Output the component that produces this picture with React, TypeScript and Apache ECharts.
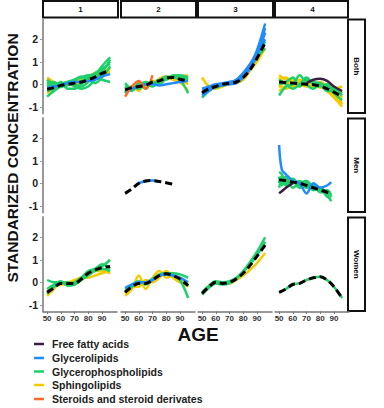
import React, { useEffect, useRef } from "react";
import * as echarts from "echarts";

// ---------- data ----------
const COLS = ["1", "2", "3", "4"];
const ROWS = ["Both", "Men", "Women"];
const X_TICKS = [50, 60, 70, 80, 90];
const Y_TICKS = [-1, 0, 1, 2];
const LEGEND = [
  "Free fatty acids",
  "Glycerolipids",
  "Glycerophospholipids",
  "Sphingolipids",
  "Steroids and steroid derivates",
];
const COLORS = {
  purple: "#3b1f45",
  blue: "#1f8bff",
  green: "#1fcf6c",
  yellow: "#f3cb00",
  orange: "#ff6a2c",
};

const AGE_FULL = [50, 55, 60, 65, 70, 75, 80, 85, 90, 96];
const AGE_MEN2 = [50, 55, 60, 65, 70, 75, 80, 86];
const AGE_MEN4 = [50, 52, 55, 60, 65, 70, 75, 80, 85, 88];

// Both / 1
const both1Mean = [-0.22, -0.15, -0.05, 0.0, 0.05, 0.1, 0.2, 0.32, 0.48, 0.62];
const both1Green = [
  [0.1, -0.05, 0.0, 0.1, 0.0, -0.1, 0.1, 0.4, 0.8, 1.2],
  [-0.55, -0.3, -0.1, 0.05, -0.1, -0.2, -0.1, 0.2, 0.6, 1.0],
  [0.2, 0.0, -0.1, 0.1, 0.2, 0.3, 0.4, 0.3, 0.2, 0.1],
  [-0.3, -0.2, 0.1, -0.2, -0.2, 0.0, 0.3, 0.5, 0.7, 0.9],
  [0.0, 0.1, -0.1, -0.05, 0.2, 0.35, 0.2, 0.05, 0.3, 0.8],
  [-0.1, 0.05, 0.0, 0.1, 0.1, 0.15, 0.35, 0.45, 0.55, 1.1],
];
const both1Yellow = [
  [0.3, 0.1, 0.0, 0.05, 0.1, 0.2, 0.3, 0.4, 0.5, 0.6],
  [-0.4, -0.25, -0.1, 0.0, 0.1, 0.2, 0.35, 0.5, 0.6, 0.7],
  [0.0, -0.1, -0.1, 0.0, 0.05, 0.1, 0.15, 0.3, 0.45, 0.5],
  [0.2, -0.05, 0.05, 0.0, 0.0, 0.05, 0.25, 0.35, 0.4, 0.75],
];
const both1Blue = [[-0.15, -0.1, -0.05, 0.05, 0.1, 0.1, 0.15, 0.2, 0.35, 0.45]];

// Both / 2
const both2Mean = [-0.25, -0.15, -0.1, -0.05, 0.1, 0.15, 0.28, 0.3, 0.22, 0.15];
const both2Green = [
  [-0.1, -0.3, 0.05, -0.2, 0.1, 0.0, 0.25, 0.35, 0.4, 0.3],
  [-0.4, -0.1, -0.2, 0.0, -0.1, 0.15, 0.35, 0.3, 0.2, -0.4],
  [0.05, -0.2, -0.05, 0.1, 0.0, 0.2, 0.2, 0.4, 0.35, 0.2],
];
const both2Yellow = [
  [-0.1, -0.2, -0.1, 0.0, 0.1, 0.2, 0.3, 0.35, 0.35, 0.4],
  [-0.3, -0.1, -0.3, 0.1, 0.0, 0.25, 0.35, 0.2, 0.1, -0.3],
  [-0.2, -0.25, 0.0, -0.1, 0.15, 0.1, 0.3, 0.25, 0.3, 0.3],
  [-0.35, -0.15, -0.15, -0.05, 0.05, 0.2, 0.25, 0.3, 0.2, 0.0],
];
const both2Blue = [[-0.3, -0.2, -0.1, 0.0, 0.0, -0.05, 0.0, 0.05, 0.1, 0.15]];
const both2Orange = [[-0.55, -0.1, 0.15, -0.2, 0.4, null, null, null, null, null]];

// Both / 3
const both3Mean = [-0.38, -0.2, -0.1, 0.0, 0.05, 0.1, 0.3, 0.65, 1.15, 1.85];
const both3Yellow = [[0.3, -0.1, -0.2, -0.1, 0.0, 0.05, 0.2, 0.6, 1.0, 1.6]];
const both3Green = [
  [-0.4, -0.2, -0.15, -0.05, 0.05, 0.2, 0.5, 0.85, 1.2, 1.6],
  [-0.6, -0.3, -0.1, 0.0, 0.1, 0.15, 0.35, 0.75, 1.2, 1.9],
];
const both3Blue = [
  [-0.3, -0.15, -0.05, 0.0, 0.05, 0.15, 0.4, 0.8, 1.5, 2.7],
  [-0.5, -0.3, -0.1, -0.05, 0.0, 0.05, 0.3, 0.7, 1.3, 2.3],
  [-0.2, -0.1, 0.0, 0.05, 0.1, 0.2, 0.5, 0.9, 1.4, 2.0],
  [-0.4, -0.2, -0.1, 0.0, 0.05, 0.1, 0.35, 0.85, 1.45, 2.5],
];

// Both / 4
const both4Mean = [0.1, 0.08, 0.05, 0.02, 0.0, -0.02, -0.08, -0.2, -0.35, -0.55];
const both4Yellow = [
  [0.4, 0.2, 0.1, 0.05, 0.05, 0.0, -0.1, -0.3, -0.6, -1.0],
  [-0.3, -0.1, 0.0, -0.1, 0.1, 0.0, 0.0, -0.1, -0.3, -0.6],
  [0.2, 0.3, 0.1, 0.2, 0.0, 0.1, -0.1, -0.2, -0.2, -0.1],
  [0.0, -0.2, -0.1, 0.0, -0.1, -0.1, 0.1, -0.1, -0.5, -0.8],
  [0.3, 0.0, 0.2, 0.0, 0.15, -0.05, 0.0, -0.25, -0.4, -0.9],
  [-0.15, 0.1, -0.05, 0.1, -0.05, 0.05, -0.15, 0.0, -0.1, -0.4],
];
const both4Green = [
  [0.0, 0.1, 0.3, -0.1, 0.2, 0.1, 0.05, -0.1, -0.2, -0.5],
  [-0.5, -0.1, 0.0, 0.4, 0.0, -0.2, 0.0, -0.3, -0.3, -0.4],
  [0.2, 0.0, -0.2, 0.0, 0.3, 0.0, -0.1, 0.0, -0.4, -0.7],
];
const both4Purple = [[null, null, null, null, 0.05, 0.2, 0.25, 0.15, -0.1, -0.3]];

// Men / 2
const men2Mean = [-0.45, -0.25, 0.0, 0.1, 0.12, 0.08, 0.02, -0.05];
const men2Blue = [[null, null, 0.0, 0.1, 0.12, 0.08, null, null]];

// Men / 4
const men4Mean = [0.15, 0.14, 0.12, 0.05, 0.0, -0.1, -0.2, -0.3, -0.4, -0.45];
const men4Green = [
  [0.5, 0.4, 0.1, 0.2, -0.1, 0.0, -0.3, -0.2, -0.5, -0.8],
  [0.0, 0.3, 0.2, 0.0, 0.1, -0.2, -0.1, -0.4, -0.3, -0.6],
  [-0.2, 0.1, -0.1, 0.1, -0.2, -0.1, -0.3, -0.2, -0.6, -0.7],
  [0.3, -0.1, 0.3, -0.2, 0.0, 0.1, -0.2, -0.3, -0.4, -0.5],
  [0.1, 0.0, 0.0, 0.15, -0.05, -0.15, -0.05, -0.35, -0.45, -0.4],
];
const men4Blue = [[1.7, 0.6, 0.4, 0.1, 0.0, -0.45, 0.0, -0.2, -0.1, 0.05]];
const men4Purple = [[-0.45, -0.35, -0.2, 0.0, null, null, null, null, null, null]];

// Women / 1
const women1Mean = [-0.45, -0.25, -0.05, -0.05, -0.05, 0.15, 0.4, 0.55, 0.65, 0.7];
const women1Yellow = [
  [-0.6, -0.3, 0.0, 0.0, 0.1, 0.2, 0.2, 0.3, 0.4, 0.5],
  [-0.4, -0.2, -0.1, -0.1, 0.0, 0.1, 0.45, 0.5, 0.5, 0.4],
];
const women1Green = [
  [-0.5, -0.2, -0.05, 0.0, -0.1, 0.2, 0.4, 0.6, 0.7, 1.0],
  [0.1, 0.0, 0.0, -0.1, 0.0, 0.2, 0.5, 0.6, 0.8, 0.6],
  [-0.3, -0.1, 0.05, -0.15, -0.1, 0.1, 0.3, 0.5, 0.6, 0.5],
];

// Women / 2
const women2Mean = [-0.45, -0.2, -0.05, -0.05, 0.1, 0.3, 0.38, 0.3, 0.15, -0.15];
const women2Yellow = [
  [-0.6, -0.3, 0.3, -0.3, 0.2, 0.5, 0.2, 0.3, 0.1, -0.2],
  [-0.5, -0.2, -0.2, 0.1, 0.0, 0.2, 0.5, 0.2, 0.0, -0.1],
];
const women2Green = [
  [-0.4, -0.1, 0.05, -0.1, 0.1, 0.3, 0.35, 0.3, 0.1, -0.7],
  [-0.3, -0.2, 0.0, 0.0, 0.15, 0.35, 0.4, 0.4, 0.35, 0.2],
];
const women2Blue = [[-0.25, -0.1, 0.0, 0.0, 0.1, 0.3, 0.35, 0.3, 0.2, 0.0]];

// Women / 3
const women3Mean = [-0.5, -0.2, 0.0, -0.05, 0.0, 0.15, 0.4, 0.75, 1.15, 1.65];
const women3Yellow = [[-0.5, -0.2, 0.0, -0.05, -0.05, 0.1, 0.3, 0.55, 0.85, 1.3]];
const women3Green = [
  [-0.45, -0.15, 0.05, 0.0, 0.05, 0.2, 0.5, 0.9, 1.35, 2.0],
  [-0.55, -0.25, -0.05, -0.1, -0.05, 0.15, 0.45, 0.8, 1.2, 1.8],
];

// Women / 4
const women4Mean = [-0.45, -0.3, -0.1, -0.05, 0.1, 0.2, 0.25, 0.1, -0.2, -0.7];
const women4Green = [[-0.45, -0.3, -0.08, -0.05, 0.1, 0.2, 0.25, 0.1, -0.2, -0.7]];

type Panel = {
  row: number;
  col: number;
  ages: number[];
  mean?: (number | null)[];
  yellow?: (number | null)[][];
  green?: (number | null)[][];
  blue?: (number | null)[][];
  orange?: (number | null)[][];
  purple?: (number | null)[][];
};

const PANELS: Panel[] = [
  { row: 0, col: 0, ages: AGE_FULL, mean: both1Mean, yellow: both1Yellow, green: both1Green, blue: both1Blue },
  { row: 0, col: 1, ages: AGE_FULL, mean: both2Mean, yellow: both2Yellow, green: both2Green, blue: both2Blue, orange: both2Orange },
  { row: 0, col: 2, ages: AGE_FULL, mean: both3Mean, yellow: both3Yellow, green: both3Green, blue: both3Blue },
  { row: 0, col: 3, ages: AGE_FULL, mean: both4Mean, yellow: both4Yellow, green: both4Green, purple: both4Purple },
  { row: 1, col: 0, ages: AGE_FULL },
  { row: 1, col: 1, ages: AGE_MEN2, mean: men2Mean, blue: men2Blue },
  { row: 1, col: 2, ages: AGE_FULL },
  { row: 1, col: 3, ages: AGE_MEN4, mean: men4Mean, green: men4Green, blue: men4Blue, purple: men4Purple },
  { row: 2, col: 0, ages: AGE_FULL, mean: women1Mean, yellow: women1Yellow, green: women1Green },
  { row: 2, col: 1, ages: AGE_FULL, mean: women2Mean, yellow: women2Yellow, green: women2Green, blue: women2Blue },
  { row: 2, col: 2, ages: AGE_FULL, mean: women3Mean, yellow: women3Yellow, green: women3Green },
  { row: 2, col: 3, ages: AGE_FULL, mean: women4Mean, green: women4Green },
];

// ---------- layout ----------
const GRID_LEFT = [43, 121, 198, 275];
const GRID_W = 74;
const GRID_TOP = [19, 118, 217];
const GRID_H = 94.5;
const FONT = "Liberation Sans, Arial, sans-serif";

export default function App() {
  const ref = useRef<HTMLDivElement>(null);

  useEffect(() => {
    document.body.style.margin = "0";
    const chart = echarts.init(ref.current!, undefined, { renderer: "svg" });

    const grids: any[] = [];
    const xAxes: any[] = [];
    const yAxes: any[] = [];
    const series: any[] = [];

    PANELS.forEach((p, i) => {
      grids.push({ left: GRID_LEFT[p.col], top: GRID_TOP[p.row], width: GRID_W, height: GRID_H });
      const bottom = p.row === 2;
      const left = p.col === 0;
      xAxes.push({
        type: "value",
        gridIndex: i,
        min: 47,
        max: 101,
        splitLine: { show: false },
        axisLine: { show: bottom, onZero: false, lineStyle: { color: "#777", width: 1.5 } },
        axisTick: { show: bottom, length: 2.5, customValues: X_TICKS, lineStyle: { color: "#777" } },
        axisLabel: {
          show: bottom,
          customValues: X_TICKS,
          margin: 3,
          fontSize: 8,
          fontWeight: "bold",
          color: "#333",
          fontFamily: FONT,
        },
      });
      yAxes.push({
        type: "value",
        gridIndex: i,
        min: -1.3,
        max: 2.9,
        splitLine: { show: false },
        axisLine: { show: left, onZero: false, lineStyle: { color: "#999", width: 2 } },
        axisTick: { show: left, length: 3, customValues: Y_TICKS, lineStyle: { color: "#999" } },
        axisLabel: {
          show: left,
          customValues: Y_TICKS,
          margin: 5,
          fontSize: 10.5,
          fontWeight: "bold",
          color: "#222",
          fontFamily: FONT,
        },
      });

      const addLines = (arr: (number | null)[][] | undefined, color: string) => {
        (arr || []).forEach((vals) => {
          series.push({
            type: "line",
            xAxisIndex: i,
            yAxisIndex: i,
            data: p.ages.map((a, k) => [a, vals[k]]),
            showSymbol: false,
            smooth: 0.35,
            silent: true,
            connectNulls: false,
            lineStyle: { color, width: 2.5 },
          });
        });
      };
      addLines(p.yellow, COLORS.yellow);
      addLines(p.green, COLORS.green);
      addLines(p.blue, COLORS.blue);
      addLines(p.orange, COLORS.orange);
      addLines(p.purple, COLORS.purple);
      if (p.mean) {
        series.push({
          type: "line",
          xAxisIndex: i,
          yAxisIndex: i,
          data: p.ages.map((a, k) => [a, p.mean![k]]),
          showSymbol: false,
          smooth: 0.35,
          silent: true,
          z: 5,
          lineStyle: { color: "#000", width: 3, type: [7, 4] },
        });
      }
    });

    const graphics: any[] = [];
    COLS.forEach((c, j) => {
      graphics.push({
        type: "rect",
        shape: { x: GRID_LEFT[j], y: 1, width: j === 3 ? 73 : GRID_W + 1, height: 16.5 },
        style: { fill: "#fff", stroke: "#111", lineWidth: 2 },
      });
      graphics.push({
        type: "text",
        x: GRID_LEFT[j] + 37.5,
        y: 9.5,
        style: { text: c, font: `bold 8px ${FONT}`, fill: "#111", textAlign: "center", textVerticalAlign: "middle" },
      });
    });
    ROWS.forEach((r, j) => {
      graphics.push({
        type: "rect",
        shape: { x: 348, y: GRID_TOP[j] + 0.5, width: 17, height: GRID_H - 1 },
        style: { fill: "#fff", stroke: "#111", lineWidth: 2 },
      });
      graphics.push({
        type: "text",
        x: 356.5,
        y: GRID_TOP[j] + GRID_H / 2,
        rotation: -Math.PI / 2,
        style: { text: r, font: `bold 8px ${FONT}`, fill: "#111", textAlign: "center", textVerticalAlign: "middle" },
      });
    });
    graphics.push({
      type: "text",
      x: 12,
      y: 158,
      rotation: Math.PI / 2,
      style: {
        text: "STANDARIZED CONCENTRATION",
        font: `bold 15.5px ${FONT}`,
        fill: "#111",
        textAlign: "center",
        textVerticalAlign: "middle",
      },
    });
    graphics.push({
      type: "text",
      x: 198,
      y: 334,
      style: { text: "AGE", font: `bold 19px ${FONT}`, fill: "#111", textAlign: "center", textVerticalAlign: "middle" },
    });
    const legColors = [COLORS.purple, COLORS.blue, COLORS.green, COLORS.yellow, COLORS.orange];
    const legY = [344, 358, 371.5, 385, 399];
    LEGEND.forEach((name, k) => {
      graphics.push({
        type: "line",
        shape: { x1: 34, y1: legY[k], x2: 44, y2: legY[k] },
        style: { stroke: legColors[k], lineWidth: 2.5 },
      });
      graphics.push({
        type: "text",
        x: 52,
        y: legY[k],
        style: { text: name, font: `bold 10.5px ${FONT}`, fill: "#222", textAlign: "left", textVerticalAlign: "middle" },
      });
    });

    chart.setOption({
      animation: false,
      backgroundColor: "#fff",
      grid: grids,
      xAxis: xAxes,
      yAxis: yAxes,
      series,
      graphic: graphics,
    });
    return () => chart.dispose();
  }, []);

  return <div ref={ref} style={{ position: "fixed", left: 0, top: 0, width: 384, height: 408 }} />;
}
